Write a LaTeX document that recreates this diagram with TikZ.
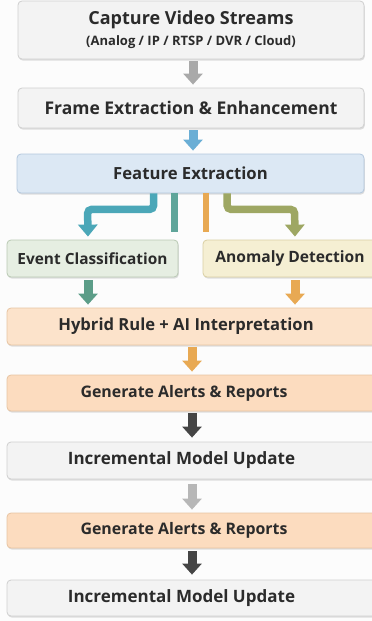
\documentclass[tikz,border=0pt]{standalone}
\usepackage{fontspec}
\setmainfont{Open Sans}
\usetikzlibrary{arrows.meta,shadows,calc}
\definecolor{txt}{HTML}{2B2B2B}
\definecolor{grayfill}{HTML}{F3F3F3}
\definecolor{grayline}{HTML}{CFCFCF}
\definecolor{bluefill}{HTML}{DCE8F4}
\definecolor{blueline}{HTML}{B3C7DD}
\definecolor{evfill}{HTML}{E6EEE2}
\definecolor{evline}{HTML}{B9C9B3}
\definecolor{anfill}{HTML}{F5EFD3}
\definecolor{anline}{HTML}{D9CFA3}
\definecolor{orfill}{HTML}{FCE3CB}
\definecolor{orfill2}{HTML}{FCDCBF}
\definecolor{orline}{HTML}{E7C4A2}
\definecolor{agray}{HTML}{A9A9A9}
\definecolor{ablue}{HTML}{6AAED5}
\definecolor{aLblue}{HTML}{4BA7B8}
\definecolor{ateal}{HTML}{5FA59A}
\definecolor{aorange}{HTML}{E8A953}
\definecolor{aolive}{HTML}{9EA763}
\definecolor{agreen}{HTML}{5C9D88}
\definecolor{adark}{HTML}{454545}
\definecolor{alight}{HTML}{B7B7B7}
\definecolor{bg}{HTML}{FCFCFC}
\tikzset{
  box/.style={draw=#1line, rounded corners=4pt, line width=0.8pt, text=txt,
    drop shadow={shadow xshift=0.8pt, shadow yshift=-1.6pt, opacity=0.12, fill=black},
    inner sep=0pt, font=\bfseries},
  fatarrow/.style={line width=9pt, draw=#1,
    -{Triangle[width=19pt,length=11pt]}},
  branch/.style={line width=7.5pt, draw=#1, rounded corners=4pt,
    -{Triangle[width=19pt,length=12pt]}},
  bar/.style={line width=6.5pt, draw=#1},
}
\begin{document}
\begin{tikzpicture}[x=1pt,y=-1pt]
\useasboundingbox (0,0) rectangle (372,621);
\fill[bg] (0,0) rectangle (372,621);
\clip (0,0) rectangle (372,621);

\node[box=gray, fill=grayfill, minimum width=346pt, minimum height=58pt, align=center] (cap) at (191,30)
  {{\fontsize{18}{21}\selectfont Capture Video Streams}\\[6pt]{\fontsize{13}{16}\selectfont (Analog / IP / RTSP / DVR / Cloud)}};
\node[box=gray, fill=grayfill, minimum width=346pt, minimum height=40pt, font=\bfseries\fontsize{17.5}{20}\selectfont] (fr) at (191,108) {Frame Extraction \& Enhancement};
\node[box=blue, fill=bluefill, minimum width=347pt, minimum height=39pt, font=\bfseries\fontsize{16.7}{19}\selectfont] (fe) at (190.5,173.5) {Feature Extraction};
\node[box=ev, fill=evfill, minimum width=171pt, minimum height=37pt, font=\bfseries\fontsize{15.4}{18}\selectfont] (ev) at (92.5,258.5) {Event Classification};
\node[box=an, fill=anfill, minimum width=175pt, minimum height=37pt, font=\bfseries\fontsize{15.6}{18}\selectfont] (an) at (290.5,258.5) {Anomaly Detection\kern1pt};
\node[box=or, fill=orfill, minimum width=373pt, minimum height=37pt, font=\bfseries\fontsize{16.6}{19}\selectfont] (hy) at (193.5,326.5) {Hybrid Rule + AI Interpretation\kern15pt};
\node[box=or, fill=orfill2, minimum width=373pt, minimum height=36pt, font=\bfseries\fontsize{15.9}{19}\selectfont] (al) at (193.5,393) {Generate Alerts \& Reports\kern19pt};
\node[box=gray, fill=grayfill, minimum width=373pt, minimum height=37pt, font=\bfseries\fontsize{17}{20}\selectfont] (in) at (193.5,460.5) {Incremental Model Update\kern24pt};
\node[box=or, fill=orfill2, minimum width=373pt, minimum height=35pt, font=\bfseries\fontsize{15.9}{19}\selectfont] (al2) at (193.5,530.5) {Generate Alerts \& Reports\kern19pt};
\node[box=gray, fill=grayfill, minimum width=373pt, minimum height=36pt, font=\bfseries\fontsize{17}{20}\selectfont] (in2) at (193.5,598) {Incremental Model Update\kern24pt};

% straight arrows
\draw[fatarrow=agray, shorten <=2pt, shorten >=3pt] ([xshift=2pt]cap.south) -- ([xshift=2pt]cap.south |- fr.north);
\draw[fatarrow=ablue, shorten <=2pt, shorten >=3pt] ([xshift=2pt]fr.south) -- ([xshift=2pt]fr.south |- fe.north);

% branches
\coordinate (tealend) at ($(fe.south west)+(158,39)$);
\coordinate (orend) at ($(fe.south west)+(189.5,39)$);
\draw[branch=aLblue, shorten >=3pt] ($(fe.south west)+(137,0)$) |- ($(fe.south west)+(71,16)$) -- ([xshift=-4.5pt]ev.north);
\draw[bar=ateal] ($(fe.south west)+(158,0)$) -- (tealend);
\draw[bar=aorange] ($(fe.south west)+(189.5,0)$) -- (orend);
\draw[branch=aolive, shorten >=3pt] ($(fe.south west)+(210.5,0)$) |- ($(fe.south west)+(278,16)$) -- ([xshift=4.5pt]an.north);

\draw[fatarrow=agreen, shorten <=3pt, shorten >=3pt] ([xshift=-4.5pt]ev.south) -- ([xshift=-4.5pt]ev.south |- hy.north);
\draw[fatarrow=aorange, shorten <=3pt, shorten >=3pt] ([xshift=4.5pt]an.south) -- ([xshift=4.5pt]an.south |- hy.north);
\draw[fatarrow=aorange, shorten <=2pt, shorten >=3pt] ([xshift=-1.5pt]hy.south) -- ([xshift=-1.5pt]hy.south |- al.north);
\draw[fatarrow=adark, shorten <=2pt, shorten >=4pt] ([xshift=-1.5pt]al.south) -- ([xshift=-1.5pt]al.south |- in.north);
\draw[fatarrow=alight, shorten <=5pt, shorten >=3pt] ([xshift=-1.5pt]in.south) -- ([xshift=-1.5pt]in.south |- al2.north);
\draw[fatarrow=adark, shorten <=3pt, shorten >=5pt] ([xshift=-1.5pt]al2.south) -- ([xshift=-1.5pt]al2.south |- in2.north);
\end{tikzpicture}
\end{document}
